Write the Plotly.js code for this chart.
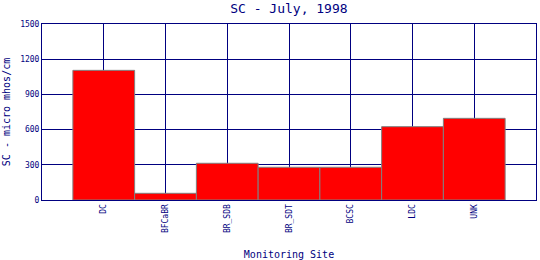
<!DOCTYPE html>
<html>
<head>
<meta charset="utf-8">
<script src="https://cdn.plot.ly/plotly-3.0.1.min.js"></script>
<style>html,body{margin:0;padding:0;background:#fff;}#chart{width:540px;height:260px;}</style>
</head>
<body>
<div id="chart"></div>
<script>
const sites = ["DC", "BFCaBR", "BR_SDB", "BR_SDT", "BCSC", "LDC", "UNK"];
const scValues = [1105, 57, 313, 279, 279, 625, 696];
const yTicks = [0, 300, 600, 900, 1200, 1500];

const navy = "#000080";
const font = "DejaVu Sans Mono, Liberation Mono, monospace";

Plotly.newPlot("chart", [{
  type: "bar",
  x: sites.map((s, i) => i),
  y: scValues,
  width: 1,
  marker: {color: "#ff0000", line: {color: "#808080", width: 1}},
  hoverinfo: "none"
}], {
  width: 540, height: 260,
  margin: {l: 42, r: 4, t: 24, b: 60},
  paper_bgcolor: "#fff", plot_bgcolor: "#fff",
  showlegend: false,
  title: {text: "SC - July, 1998", font: {family: font, size: 13, color: navy}, x: 0.535, xanchor: "center", y: 0.966, yanchor: "middle"},
  xaxis: {
    range: [-1, 7],
    tickmode: "array", tickvals: sites.map((s, i) => i), ticktext: sites,
    tickangle: -90, tickfont: {family: font, size: 8, color: navy},
    showgrid: true, gridcolor: navy, gridwidth: 1,
    showline: true, linecolor: navy, linewidth: 1, mirror: true,
    ticks: "", zeroline: false,
    title: {text: "Monitoring Site", font: {family: font, size: 10, color: navy}, standoff: 18}
  },
  yaxis: {
    range: [0, 1500],
    tickmode: "array", tickvals: yTicks,
    tickfont: {family: font, size: 8, color: navy},
    showgrid: true, gridcolor: navy, gridwidth: 1,
    showline: true, linecolor: navy, linewidth: 1, mirror: true,
    ticks: "", zeroline: false,
    title: {text: "SC - micro mhos/cm", font: {family: font, size: 10, color: navy}, standoff: 7}
  },
  bargap: 0
}, {staticPlot: true, displayModeBar: false});
</script>
</body>
</html>
